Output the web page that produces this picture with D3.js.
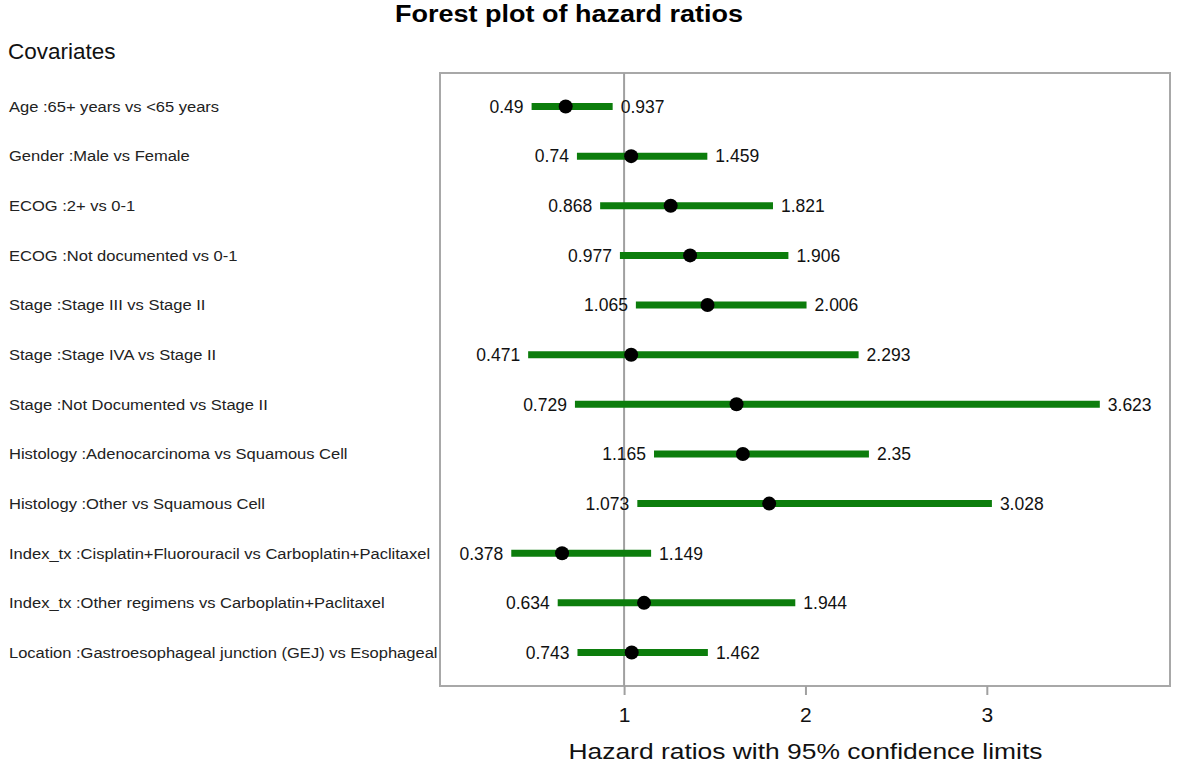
<!DOCTYPE html>
<html><head><meta charset="utf-8">
<script src="https://cdn.jsdelivr.net/npm/d3@7"></script>
<style>body{margin:0;background:#fff;} svg{display:block;font-family:"Liberation Sans",Arial,sans-serif;}</style>
</head><body>
<svg id="chart" width="1181" height="771"></svg>
<script>
const categories = [
  "Age :65+ years vs <65 years",
  "Gender :Male vs Female",
  "ECOG :2+ vs 0-1",
  "ECOG :Not documented vs 0-1",
  "Stage :Stage III vs Stage II",
  "Stage :Stage IVA vs Stage II",
  "Stage :Not Documented vs Stage II",
  "Histology :Adenocarcinoma vs Squamous Cell",
  "Histology :Other vs Squamous Cell",
  "Index_tx :Cisplatin+Fluorouracil vs Carboplatin+Paclitaxel",
  "Index_tx :Other regimens vs Carboplatin+Paclitaxel",
  "Location :Gastroesophageal junction (GEJ) vs Esophageal"
];
const lower = [0.49, 0.74, 0.868, 0.977, 1.065, 0.471, 0.729, 1.165, 1.073, 0.378, 0.634, 0.743];
const upper = [0.937, 1.459, 1.821, 1.906, 2.006, 2.293, 3.623, 2.35, 3.028, 1.149, 1.944, 1.462];
const estimate = [0.678, 1.039, 1.257, 1.364, 1.46, 1.039, 1.62, 1.655, 1.80, 0.658, 1.11, 1.042];
const tickValues = [1, 2, 3];
const refValue = 1;

const svg = d3.select("#chart");
const box = {left: 440, right: 1170, top: 73, bottom: 686};
const x = d3.scaleLinear().domain([-0.015, 4.01]).range([box.left, box.right]);
const y = d3.scalePoint().domain(categories).range([box.top, box.bottom]).padding(0.675);
const green = "#0c7d0c";

svg.append("text").attr("x", 569).attr("y", 22).attr("text-anchor", "middle")
  .attr("font-size", 23.5).attr("font-weight", "bold")
  .attr("textLength", 348).attr("lengthAdjust", "spacingAndGlyphs")
  .text("Forest plot of hazard ratios");
svg.append("text").attr("x", 8).attr("y", 59).attr("font-size", 22.5).attr("fill", "#111").text("Covariates");

// box
svg.append("rect").attr("x", box.left).attr("y", box.top)
  .attr("width", box.right - box.left).attr("height", box.bottom - box.top)
  .attr("fill", "none").attr("stroke", "#a8a8a8").attr("stroke-width", 2);

// reference line
svg.append("line").attr("x1", x(refValue)).attr("x2", x(refValue))
  .attr("y1", box.top).attr("y2", box.bottom).attr("stroke", "#a0a0a0").attr("stroke-width", 2);

// axis
const axis = d3.axisBottom(x).tickValues(tickValues).tickSize(9).tickPadding(12).tickFormat(d3.format("d"));
const ag = svg.append("g").attr("transform", `translate(0,${box.bottom})`).call(axis);
ag.select(".domain").remove();
ag.selectAll(".tick line").attr("stroke", "#a0a0a0").attr("stroke-width", 2);
ag.selectAll(".tick text").attr("font-size", 21).attr("fill", "#111").attr("font-family", "Liberation Sans, Arial, sans-serif");

svg.append("text").attr("x", x(2)).attr("y", 759).attr("text-anchor", "middle")
  .attr("font-size", 22).attr("fill", "#111")
  .attr("textLength", 474).attr("lengthAdjust", "spacingAndGlyphs")
  .text("Hazard ratios with 95% confidence limits");

// row labels
svg.append("g").attr("transform", "translate(9,0) scale(1.08,1)")
  .selectAll("text").data(categories).join("text")
  .attr("x", 0).attr("y", d => y(d)).attr("dy", "0.35em")
  .attr("font-size", 15.3).attr("fill", "#222").text(d => d);

const rows = categories.map((c, i) => ({c, lo: lower[i], hi: upper[i], est: estimate[i]}));
const g = svg.append("g");
g.selectAll("line.ci").data(rows).join("line").attr("class", "ci")
  .attr("x1", d => x(d.lo)).attr("x2", d => x(d.hi))
  .attr("y1", d => y(d.c)).attr("y2", d => y(d.c))
  .attr("stroke", green).attr("stroke-width", 7);
g.selectAll("circle").data(rows).join("circle")
  .attr("cx", d => x(d.est)).attr("cy", d => y(d.c)).attr("r", 7).attr("fill", "#000");
g.selectAll("text.lo").data(rows).join("text").attr("class", "lo")
  .attr("x", d => x(d.lo) - 8).attr("y", d => y(d.c)).attr("dy", "0.36em")
  .attr("text-anchor", "end").attr("font-size", 17.5).attr("fill", "#111").text(d => d.lo);
g.selectAll("text.hi").data(rows).join("text").attr("class", "hi")
  .attr("x", d => x(d.hi) + 8).attr("y", d => y(d.c)).attr("dy", "0.36em")
  .attr("font-size", 17.5).attr("fill", "#111").text(d => d.hi);
</script>
</body></html>
